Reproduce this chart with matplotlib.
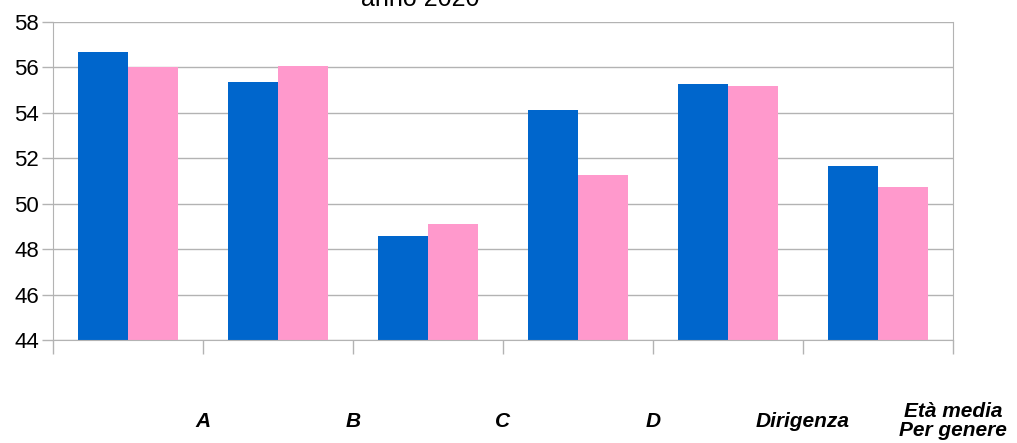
import matplotlib.pyplot as plt
import numpy as np

# Età media per genere, anno 2020
categorie = ['A', 'B', 'C', 'D', 'Dirigenza', 'Età media\nPer genere']
uomini = [56.68, 55.37, 48.57, 54.12, 55.27, 51.66]
donne = [56.00, 56.06, 49.11, 51.26, 55.18, 50.74]

plt.rcParams['font.family'] = ['Liberation Sans', 'DejaVu Sans']

fig = plt.figure(figsize=(10.17, 4.43), dpi=100)
ax = fig.add_axes([53 / 1017, 1 - 340 / 443, 900 / 1017, 318 / 443])

x = np.arange(len(categorie))
w = 1 / 3
ax.bar(x + 1 / 6, uomini, width=w, align='edge', color='#0066cc', zorder=2)
ax.bar(x + 0.5, donne, width=w, align='edge', color='#ff99cc', zorder=2)

ax.set_xlim(0, len(categorie))
ax.set_ylim(44, 58)
ax.set_yticks(range(44, 59, 2))
ax.yaxis.grid(True, color='#b3b3b3', linewidth=1, zorder=0)

grey = '#b3b3b3'
for s in ['left', 'right', 'bottom', 'top']:
    ax.spines[s].set_color(grey)
ax.spines['top'].set_visible(False)

ax.set_xticks(np.arange(len(categorie) + 1))
ax.set_xticklabels([])
ax.tick_params(axis='x', length=10, color=grey, width=1)
ax.tick_params(axis='y', length=8, color=grey, width=1, labelsize=16, pad=2)

# etichette in grassetto corsivo, sotto il bordo destro di ogni gruppo
trans = ax.get_xaxis_transform()
for i, lab in enumerate(categorie):
    ax.text(i + 1, -0.255, lab, transform=trans, ha='center', va='center',
            fontsize=15, fontweight='bold', fontstyle='italic',
            linespacing=1.0)

fig.text(420 / 1017, 1 - 6 / 443, 'anno 2020', ha='center', va='baseline',
         fontsize=18)

fig.savefig('out.png', dpi=100)
